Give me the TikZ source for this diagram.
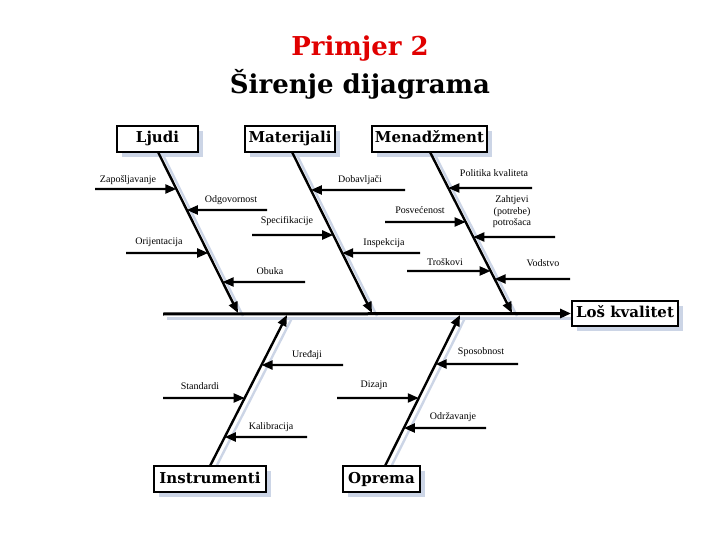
\documentclass[tikz,border=0pt]{standalone}
\usepackage{fontspec}
\setmainfont{Liberation Serif}
\newfontfamily\boxfont{DejaVu Serif}
\usetikzlibrary{arrows.meta,calc,shadows}
\definecolor{titlered}{HTML}{E00000}
\definecolor{shadowc}{HTML}{CCD5E6}
\tikzset{
  catbox/.style={draw=black, line width=1.8pt, fill=white, inner sep=0pt,
    font=\boxfont\fontsize{15}{17}\selectfont\bfseries, minimum height=26pt,
    text height=11pt, text depth=3pt,
    general shadow={shadow xshift=5pt, shadow yshift=-5pt, fill=shadowc}},
  bone/.style={line width=2.4pt, -{Triangle[length=11pt,width=9pt]}},
  boneshadow/.style={line width=2.4pt, draw=shadowc},
  sub/.style={line width=2.2pt, -{Triangle[length=11pt,width=9pt]}},
  lbl/.style={font=\fontsize{10}{12}\selectfont, inner sep=0pt},
}
\begin{document}
\begin{tikzpicture}[x=1pt,y=-1pt]
\useasboundingbox (0,0) rectangle (720,540);
% title
\node[font=\boxfont\fontsize{26}{28}\selectfont\bfseries, text=titlered] (t1) at (360,49) {Primjer 2};
\node[font=\boxfont\fontsize{26}{28}\selectfont\bfseries] (t2) at (360,84) {Širenje dijagrama};

% coordinates of bones
\coordinate (ljA) at (158,152); \coordinate (ljB) at (238,313);
\coordinate (maA) at (292,152); \coordinate (maB) at (372,313);
\coordinate (meA) at (430,152); \coordinate (meB) at (512,313);
\coordinate (inA) at (210,466); \coordinate (inB) at (287,315);
\coordinate (opA) at (385,466); \coordinate (opB) at (460,315);
\coordinate (spA) at (163,314); \coordinate (spB) at (572,314);

% shadows of lines
\draw[boneshadow, line width=3pt] ($(spA)+(4,4)$) -- ($(spB)+(0,4)$);
\foreach \a/\b in {ljA/ljB, maA/maB, meA/meB, inA/inB, opA/opB}
  \draw[boneshadow] ($(\a)+(5,3)$) -- ($(\b)+(5,3)$);

% boxes
\node[catbox, minimum width=81pt] (ljudi) at (157.5,139) {Ljudi};
\node[catbox, minimum width=90pt] (mat) at (290,139) {Materijali};
\node[catbox, minimum width=115pt] (men) at (429.5,139) {Menadžment};
\node[catbox, minimum width=106pt, minimum height=25pt] (los) at (625,313.5) {Loš kvalitet};
\node[catbox, minimum width=112pt] (ins) at (210,479) {Instrumenti};
\node[catbox, minimum width=77pt] (opr) at (381.5,479) {Oprema};

% spine
\draw[line width=3pt, -{Triangle[length=11pt,width=9pt]}] (spA) -- (los.west);

% main bones
\draw[bone] (ljA) -- (ljB);
\draw[bone] (maA) -- (maB);
\draw[bone] (meA) -- (meB);
\draw[bone] (inA) -- (inB);
\draw[bone] (opA) -- (opB);

% Ljudi
\coordinate (z0) at (95,189);
\draw[sub] (z0) -- ($(ljA)!{(189-152)/161}!(ljB)$);
\node[lbl] (zl) at (128,180) {Zapošljavanje};
\coordinate (o0) at (267,210);
\draw[sub] (o0) -- ($(ljA)!{(210-152)/161}!(ljB)$);
\node[lbl] (ol) at (231,200) {Odgovornost};
\coordinate (r0) at (126,253);
\draw[sub] (r0) -- ($(ljA)!{(253-152)/161}!(ljB)$);
\node[lbl] (rl) at (159,242) {Orijentacija};
\coordinate (b0) at (305,282);
\draw[sub] (b0) -- ($(ljA)!{(282-152)/161}!(ljB)$);
\node[lbl] (bl) at (270,271) {Obuka};

% Materijali
\coordinate (s0) at (252,235);
\draw[sub] (s0) -- ($(maA)!{(235-152)/161}!(maB)$);
\node[lbl] (sl) at (287,221) {Specifikacije};
\coordinate (d0) at (405,190);
\draw[sub] (d0) -- ($(maA)!{(190-152)/161}!(maB)$);
\node[lbl] (dl) at (360,180) {Dobavljači};
\coordinate (i0) at (420,253);
\draw[sub] (i0) -- ($(maA)!{(253-152)/161}!(maB)$);
\node[lbl] (il) at (384,243) {Inspekcija};

% Menadzment
\coordinate (p0) at (532,188);
\draw[sub] (p0) -- ($(meA)!{(188-152)/161}!(meB)$);
\node[lbl] (pl) at (494,173) {Politika kvaliteta};
\coordinate (v0) at (385,222);
\draw[sub] (v0) -- ($(meA)!{(222-152)/161}!(meB)$);
\node[lbl] (vl) at (420,210) {Posvećenost};
\coordinate (h0) at (555,237);
\draw[sub] (h0) -- ($(meA)!{(237-152)/161}!(meB)$);
\node[lbl, align=center, font=\fontsize{10}{11.5}\selectfont] (hl) at (512,212) {Zahtjevi\\(potrebe)\\potrošaca};
\coordinate (tr0) at (407,271);
\draw[sub] (tr0) -- ($(meA)!{(271-152)/161}!(meB)$);
\node[lbl] (trl) at (445,262) {Troškovi};
\coordinate (vo0) at (570,279);
\draw[sub] (vo0) -- ($(meA)!{(279-152)/161}!(meB)$);
\node[lbl] (vol) at (543,263) {Vodstvo};

% Instrumenti
\coordinate (u0) at (343,365);
\draw[sub] (u0) -- ($(inA)!{(466-365)/151}!(inB)$);
\node[lbl] (ul) at (307,355) {Uređaji};
\coordinate (st0) at (163,398);
\draw[sub] (st0) -- ($(inA)!{(466-398)/151}!(inB)$);
\node[lbl] (stl) at (200,386) {Standardi};
\coordinate (k0) at (307,437);
\draw[sub] (k0) -- ($(inA)!{(466-437)/151}!(inB)$);
\node[lbl] (kl) at (271,427) {Kalibracija};

% Oprema
\coordinate (sp0) at (518,364);
\draw[sub] (sp0) -- ($(opA)!{(466-364)/151}!(opB)$);
\node[lbl] (spl) at (481,352) {Sposobnost};
\coordinate (dz0) at (337,398);
\draw[sub] (dz0) -- ($(opA)!{(466-398)/151}!(opB)$);
\node[lbl] (dzl) at (374,385) {Dizajn};
\coordinate (od0) at (486,428);
\draw[sub] (od0) -- ($(opA)!{(466-428)/151}!(opB)$);
\node[lbl] (odl) at (453,417) {Održavanje};
\end{tikzpicture}
\end{document}
